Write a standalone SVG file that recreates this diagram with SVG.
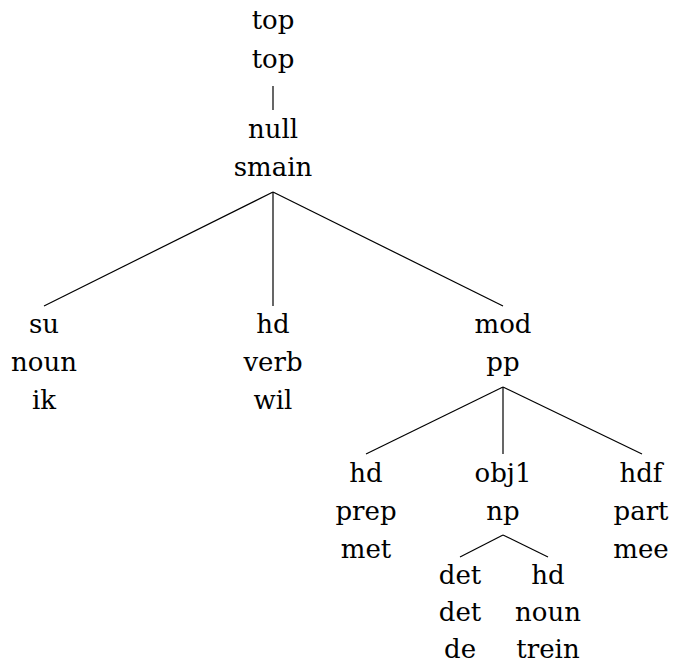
<svg xmlns="http://www.w3.org/2000/svg" width="673" height="664" viewBox="0 0 673 664">
<style>
.t text{fill:#000;text-anchor:middle}
.e line{stroke:#000;stroke-width:1.2}
</style>
<rect width="673" height="664" fill="#fff"/>
<g class="e" id="edges">
<line x1="273" y1="86" x2="273" y2="110"/>
<line x1="273" y1="192" x2="44" y2="306"/>
<line x1="273" y1="192" x2="273" y2="306"/>
<line x1="273" y1="192" x2="503" y2="306"/>
<line x1="503" y1="387" x2="366" y2="454"/>
<line x1="503" y1="387" x2="503" y2="454"/>
<line x1="503" y1="387" x2="642" y2="454"/>
<line x1="503" y1="535" x2="460" y2="557"/>
<line x1="503" y1="535" x2="548" y2="557"/>
</g>
<g class="t" font-family="'DejaVu Serif', serif" font-size="26">
<g id="n-top"><text x="273" y="29">top</text><text x="273" y="68">top</text></g>
<g id="n-smain"><text x="273" y="138">null</text><text x="273" y="176">smain</text></g>
<g id="n-su"><text x="44" y="333">su</text><text x="44" y="371">noun</text><text x="44" y="409">ik</text></g>
<g id="n-hd1"><text x="273" y="333">hd</text><text x="273" y="371">verb</text><text x="273" y="409">wil</text></g>
<g id="n-mod"><text x="503" y="333">mod</text><text x="503" y="371">pp</text></g>
<g id="n-hd2"><text x="366" y="482">hd</text><text x="366" y="520">prep</text><text x="366" y="558">met</text></g>
<g id="n-obj1"><text x="503" y="482">obj1</text><text x="503" y="520">np</text></g>
<g id="n-hdf"><text x="641" y="482">hdf</text><text x="641" y="520">part</text><text x="641" y="558">mee</text></g>
<g id="n-det"><text x="460" y="584">det</text><text x="460" y="621">det</text><text x="460" y="658">de</text></g>
<g id="n-hd3"><text x="548" y="584">hd</text><text x="548" y="621">noun</text><text x="548" y="658">trein</text></g>
</g>
</svg>
